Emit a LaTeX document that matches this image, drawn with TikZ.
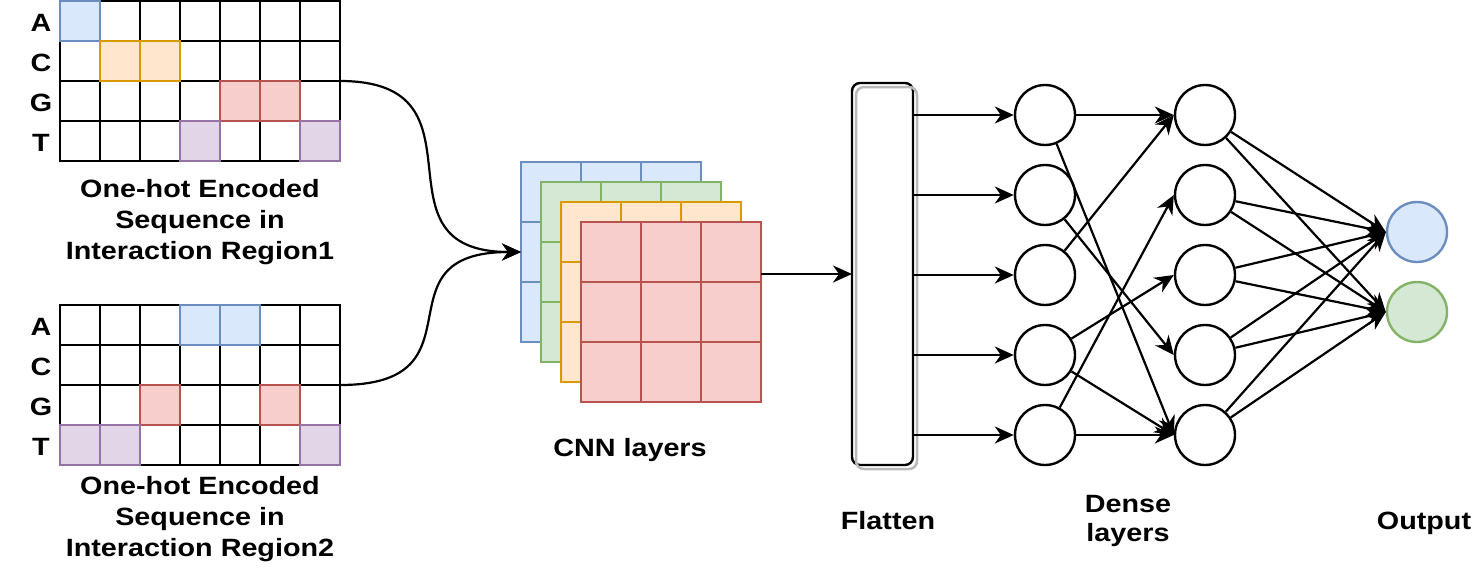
\documentclass[tikz,border=0pt]{standalone}
\definecolor{BlueFill}{HTML}{DAE8FC}
\definecolor{BlueLine}{HTML}{6C8EBF}
\definecolor{GreenFill}{HTML}{D5E8D4}
\definecolor{GreenLine}{HTML}{82B366}
\definecolor{OrangeFill}{HTML}{FFE6CC}
\definecolor{OrangeLine}{HTML}{D79B00}
\definecolor{RedFill}{HTML}{F8CECC}
\definecolor{RedLine}{HTML}{B85450}
\definecolor{PurpleFill}{HTML}{E1D5E7}
\definecolor{PurpleLine}{HTML}{9673A6}
\definecolor{SketchGray}{RGB}{185,185,185}
\usepackage{fontspec}
\setmainfont{Liberation Sans}
\newfontfamily\labelfont[FakeStretch=1.15]{Liberation Sans}
\usepackage{tikz}
\usetikzlibrary{arrows.meta, positioning, calc}

\begin{document}
\begin{tikzpicture}[x=1pt, y=-1pt,
    cell/.style={draw=black, fill=white, line width=2.4pt, minimum size=40pt, inner sep=0pt, outer sep=0pt},
    cnnmap/.style={line width=2.4pt, minimum size=180pt, inner sep=0pt, outer sep=0pt},
    neuron/.style={circle, draw=black, fill=white, line width=2.4pt, minimum size=60pt, inner sep=0pt},
    link/.style={line width=2.2pt, -{Stealth[length=19pt, width=17pt, inset=6pt]}},
    txt/.style={font=\labelfont\bfseries\fontsize{25}{31}\selectfont, align=center, inner sep=0pt}]
  \useasboundingbox (0,0) rectangle (1474,570);

  % one-hot grids
  \foreach \r in {1,...,4}{
    \foreach \k in {1,...,7}{
      \node[cell] (seq1-\r-\k) at (40+40*\k, -19+40*\r) {};
      \node[cell] (seq2-\r-\k) at (40+40*\k, 285+40*\r) {};
    }
  }
  \foreach \r/\k/\hue in {1/1/Blue, 2/2/Orange, 2/3/Orange, 3/5/Red, 3/6/Red, 4/4/Purple, 4/7/Purple}{
    \draw[line width=2.4pt, draw=\hue Line, fill=\hue Fill] (seq1-\r-\k.north west) rectangle (seq1-\r-\k.south east);
  }
  \foreach \r/\k/\hue in {1/4/Blue, 1/5/Blue, 3/3/Red, 3/6/Red, 4/1/Purple, 4/2/Purple, 4/7/Purple}{
    \draw[line width=2.4pt, draw=\hue Line, fill=\hue Fill] (seq2-\r-\k.north west) rectangle (seq2-\r-\k.south east);
  }
  \foreach \base [count=\r] in {A,C,G,T}{
    \node[txt] (lab1-\base) at (41, -17+40*\r) {\base};
    \node[txt] (lab2-\base) at (41, 287+40*\r) {\base};
  }
  \node[txt] (cap1) at (200,222.5) {One-hot Encoded\\Sequence in\\Interaction Region1};
  \node[txt] (cap2) at (200,519.5) {One-hot Encoded\\Sequence in\\Interaction Region2};

  % feature maps
  \foreach \name/\hue [count=\i from 0] in {blue/Blue, green/Green, orange/Orange, red/Red}{
    \node[cnnmap, draw=\hue Line, fill=\hue Fill] (cnn-\name) at (611+20*\i, 252+20*\i) {};
    \foreach \q in {1/3, 2/3}{
      \draw[\hue Line, line width=2.4pt]
        ($(cnn-\name.north west)!\q!(cnn-\name.north east)$) -- ($(cnn-\name.south west)!\q!(cnn-\name.south east)$)
        ($(cnn-\name.north west)!\q!(cnn-\name.south west)$) -- ($(cnn-\name.north east)!\q!(cnn-\name.south east)$);
    }
  }
  \node[txt] (cnn-label) at (630,450.5) {CNN layers};
  \draw[link] (seq1-2-7.south east) to[out=0, in=180, looseness=1.6] (cnn-blue.west);
  \draw[link] (seq2-3-7.north east) to[out=0, in=180, looseness=1.7] (cnn-blue.west);

  % flatten
  \node[draw, line width=2.4pt, rounded corners=8pt, minimum width=61pt, minimum height=382pt,
        inner sep=0pt, outer sep=0pt] (flat) at (882.5,274) {};
  \draw[SketchGray, line width=2.5pt, rounded corners=8pt]
    ($(flat.north west)+(4,4)$) rectangle ($(flat.south east)+(4,4)$);
  \draw[link] (cnn-red.east |- flat.west) -- (flat.west);
  \node[txt] (flat-label) at (888,520.5) {Flatten};

  % dense layers
  \foreach \i in {1,...,5}{
    \node[neuron] (d1-\i) at (1045, 35+80*\i) {};
    \node[neuron] (d2-\i) at (1205, 35+80*\i) {};
    \draw[link] (flat.east |- d1-\i) -- (d1-\i);
  }
  \node[neuron, draw=BlueLine, fill=BlueFill] (out-1) at (1417,232) {};
  \node[neuron, draw=GreenLine, fill=GreenFill] (out-2) at (1417,312) {};
  \foreach \src/\dst in {1/1, 1/5, 2/4, 3/1, 4/3, 4/5, 5/2, 5/5}
    \draw[link] (d1-\src) -- (d2-\dst.west);
  \foreach \i in {1,...,5}{
    \draw[link] (d2-\i) -- (out-1.west);
    \draw[link] (d2-\i) -- (out-2.west);
  }
  \node[txt, font=\labelfont\bfseries\fontsize{25}{29}\selectfont] (dense-label) at (1128,521) {Dense\\layers};
  \node[txt] (out-label) at (1424,523.5) {Output};
\end{tikzpicture}
\end{document}
